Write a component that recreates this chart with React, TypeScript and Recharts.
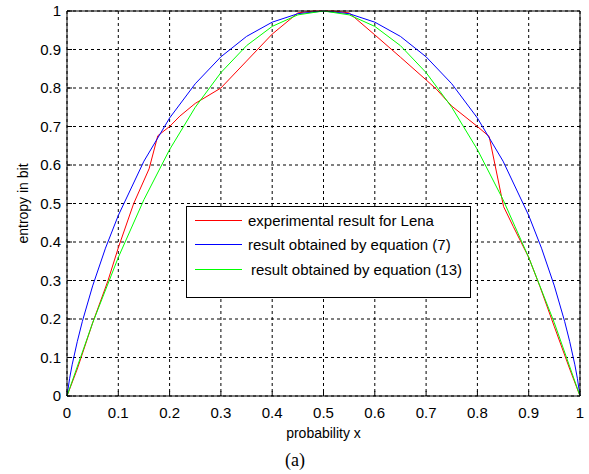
import React from "react";
import { LineChart, Line, XAxis, YAxis, CartesianGrid, Legend } from "recharts";

// x positions and entropy values
const redX = [0, 0.02, 0.05, 0.08, 0.1, 0.13, 0.16, 0.177, 0.2, 0.22, 0.25, 0.3, 0.35, 0.4, 0.45, 0.48, 0.5, 0.52, 0.55, 0.6, 0.65, 0.7, 0.72, 0.75, 0.8, 0.823, 0.851, 0.87, 0.9, 0.922, 0.95, 0.98, 1];
const redY = [0, 0.07, 0.19, 0.3, 0.385, 0.5, 0.59, 0.676, 0.7, 0.727, 0.76, 0.8, 0.87, 0.94, 0.995, 1, 1, 1, 0.995, 0.938, 0.88, 0.821, 0.797, 0.753, 0.7, 0.674, 0.492, 0.44, 0.36, 0.284, 0.18, 0.07, 0];

const blueX = [0, 0.005, 0.01, 0.02, 0.03, 0.05, 0.075, 0.1, 0.15, 0.2, 0.25, 0.3, 0.35, 0.4, 0.45, 0.5, 0.55, 0.6, 0.65, 0.7, 0.75, 0.8, 0.85, 0.9, 0.925, 0.95, 0.97, 0.98, 0.99, 0.995, 1];
const blueY = [0, 0.045, 0.081, 0.141, 0.194, 0.286, 0.384, 0.469, 0.61, 0.722, 0.811, 0.881, 0.934, 0.971, 0.993, 1, 0.993, 0.971, 0.934, 0.881, 0.811, 0.722, 0.61, 0.469, 0.384, 0.286, 0.194, 0.141, 0.081, 0.045, 0];

const greenX = [0, 0.05, 0.1, 0.15, 0.2, 0.25, 0.3, 0.35, 0.4, 0.45, 0.5, 0.55, 0.6, 0.65, 0.7, 0.75, 0.8, 0.85, 0.9, 0.95, 1];
const greenY = [0, 0.19, 0.36, 0.51, 0.64, 0.75, 0.84, 0.91, 0.96, 0.99, 1, 0.99, 0.96, 0.91, 0.84, 0.75, 0.64, 0.51, 0.36, 0.19, 0];

const xTicks = [0, 0.1, 0.2, 0.3, 0.4, 0.5, 0.6, 0.7, 0.8, 0.9, 1];
const yTicks = [0, 0.1, 0.2, 0.3, 0.4, 0.5, 0.6, 0.7, 0.8, 0.9, 1];

const seriesNames = [
  "experimental result for Lena",
  "result obtained by equation (7)",
  "result obtained by equation (13)",
];

const zip = (xs: number[], ys: number[]) => xs.map((x, i) => ({ x, y: ys[i] }));

const font = "Arial, 'Liberation Sans', sans-serif";

function LegendBox({ payload }: any) {
  // keep the series order of the original legend (recharts sorts by name)
  const items = [...(payload || [])].sort((a: any, b: any) => seriesNames.indexOf(a.value) - seriesNames.indexOf(b.value));
  return (
    <div style={{ width: 283, height: 89, border: "1px solid #000", background: "#fff", paddingTop: 1, fontFamily: font, fontSize: 15, color: "#000" }}>
      {items.map((p: any, i: number) => (
        <div key={p.value} style={{ display: "flex", alignItems: "center", height: 24.5 }}>
          <div style={{ width: 47, height: 1, background: p.color, marginLeft: 8 }} />
          <span style={{ marginLeft: i === 2 ? 9 : 6, whiteSpace: "nowrap" }}>{p.value}</span>
        </div>
      ))}
    </div>
  );
}

export default function App() {
  const tickStyle = { fill: "#000", fontSize: 15, fontFamily: font };
  return (
    <div style={{ position: "absolute", left: 0, top: 0, width: 589, height: 474, background: "#fff" }}>
      <LineChart width={589} height={474} margin={{ top: 10, right: 8, bottom: 0, left: 0 }}>
        <CartesianGrid stroke="#000" strokeDasharray="3 3" />
        <XAxis
          dataKey="x"
          type="number"
          domain={[0, 1]}
          ticks={xTicks}
          interval={0}
          height={78}
          stroke="#000"
          tick={tickStyle}
          tickSize={-5}
          tickMargin={16}
          label={{ value: "probability x", position: "insideBottom", offset: 36, fill: "#000", fontSize: 14, fontFamily: font }}
        />
        <XAxis xAxisId="top" orientation="top" dataKey="x" type="number" domain={[0, 1]} ticks={xTicks} height={1} stroke="#000" tick={false} tickSize={-5} />
        <YAxis
          type="number"
          domain={[0, 1]}
          ticks={yTicks}
          interval={0}
          width={67}
          stroke="#000"
          tick={tickStyle}
          tickSize={-5}
          tickMargin={11}
          label={{ value: "entropy in bit", angle: -90, position: "insideLeft", offset: 23, fill: "#000", fontSize: 14, fontFamily: font, style: { textAnchor: "middle" } }}
        />
        <YAxis yAxisId="right" orientation="right" type="number" domain={[0, 1]} ticks={yTicks} width={1} stroke="#000" tick={false} tickSize={-5} />
        <Legend
          layout="vertical"
          align="center"
          verticalAlign="middle"
          content={<LegendBox />}
          wrapperStyle={{ left: 186, top: 206, width: 285, height: 91 }}
        />
        <Line data={zip(redX, redY)} dataKey="y" name={seriesNames[0]} stroke="#ff0000" strokeWidth={1} dot={false} type="linear" isAnimationActive={false} />
        <Line data={zip(blueX, blueY)} dataKey="y" name={seriesNames[1]} stroke="#0000ff" strokeWidth={1} dot={false} type="linear" isAnimationActive={false} />
        <Line data={zip(greenX, greenY)} dataKey="y" name={seriesNames[2]} stroke="#00ff00" strokeWidth={1} dot={false} type="linear" isAnimationActive={false} />
      </LineChart>
      <div style={{ position: "absolute", left: 275, top: 450, width: 40, textAlign: "center", fontFamily: "'Times New Roman', 'Liberation Serif', serif", fontSize: 18, color: "#000" }}>
        (a)
      </div>
    </div>
  );
}
